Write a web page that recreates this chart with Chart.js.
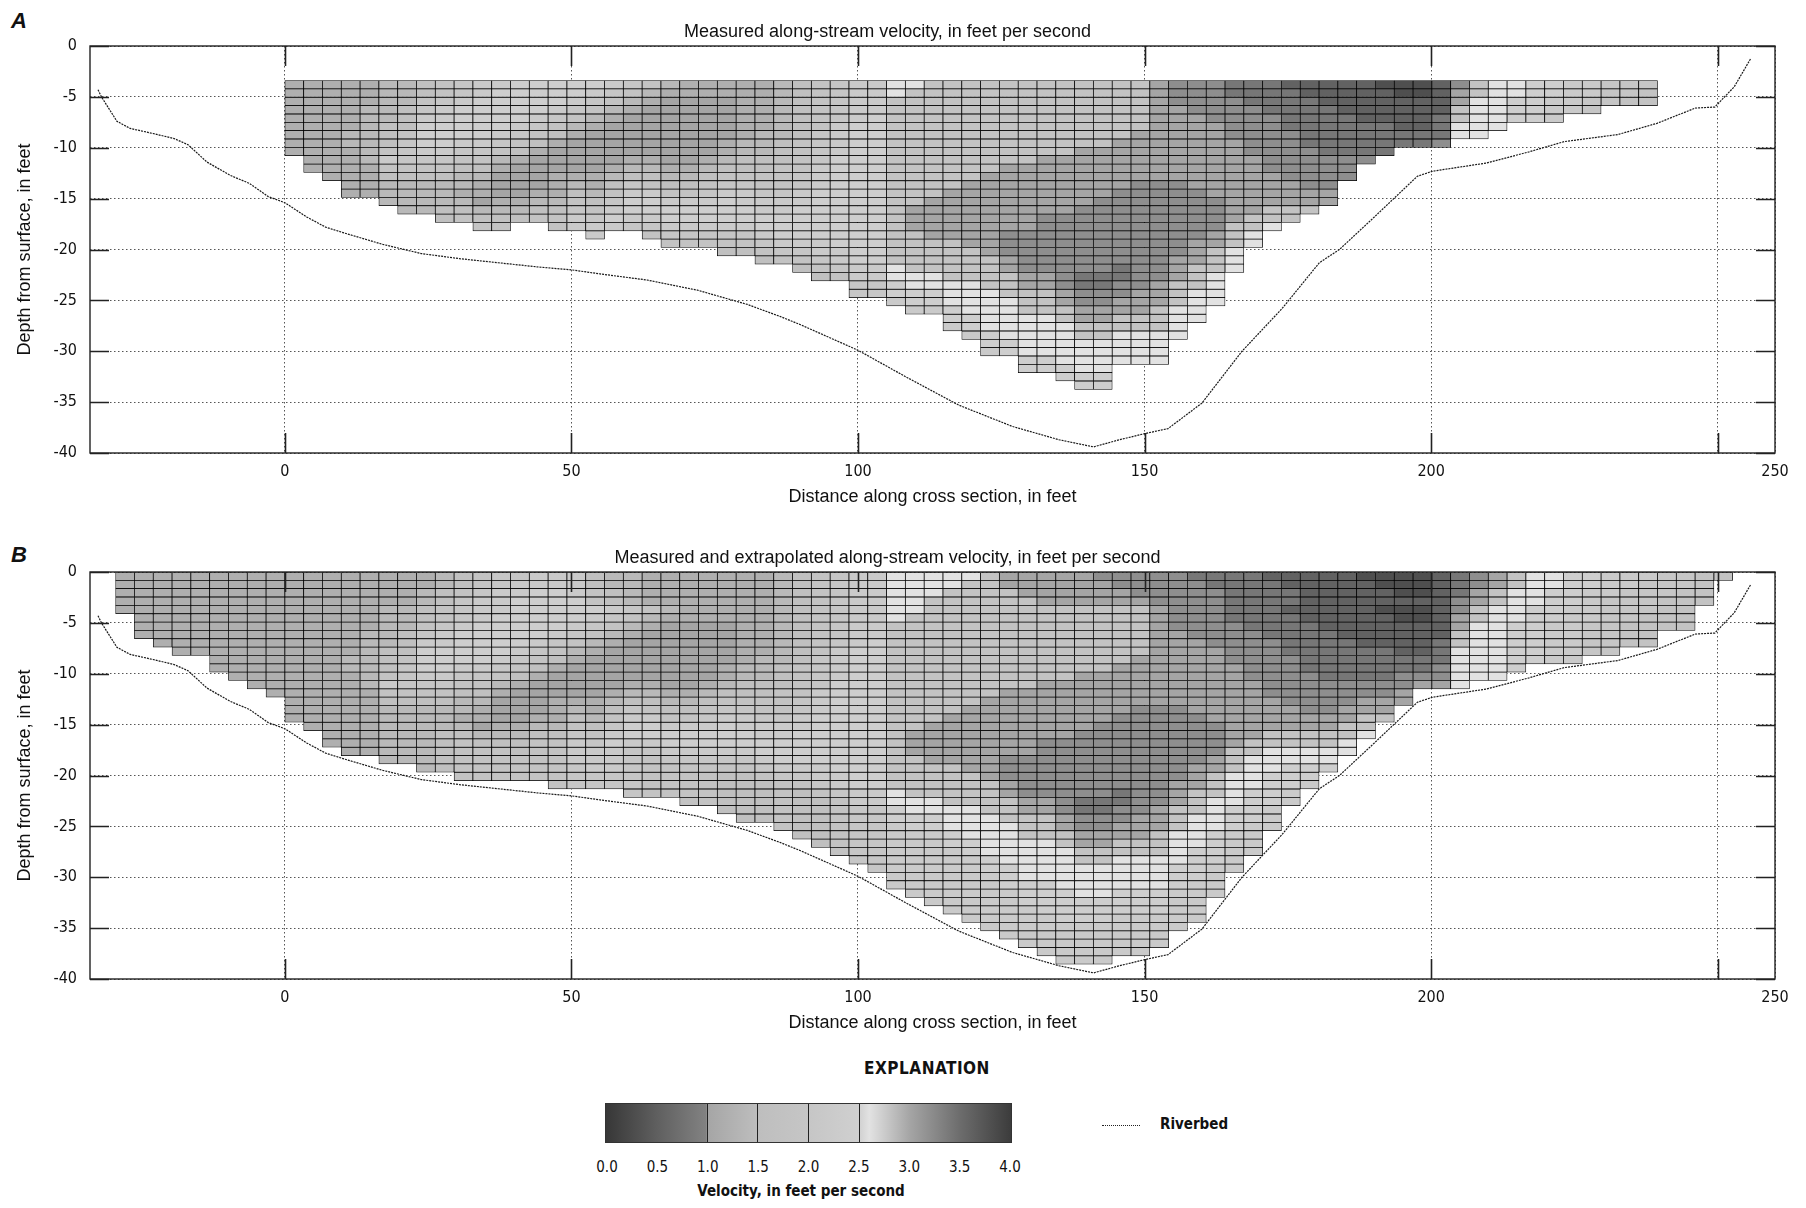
<!DOCTYPE html>
<html>
<head>
<meta charset="utf-8">
<title>Along-stream velocity cross section</title>
<script src="https://cdn.jsdelivr.net/npm/chart.js@4.4.1/dist/chart.umd.min.js"></script>
<style>
  html, body { margin: 0; padding: 0; background: #fff; }
  body { width: 1806px; height: 1208px; position: relative; overflow: hidden; color: #111;
         font-family: "Liberation Sans", Arial, sans-serif; }
  .panel { position: absolute; left: 0; }
  .tag { position: absolute; left: 11px; font: italic bold 22px "Liberation Sans", Arial, sans-serif; }
  .narrow { font-family: "Liberation Sans Narrow", "Arial Narrow", "DejaVu Sans Condensed", "Liberation Sans", sans-serif; }
  .abs { position: absolute; white-space: nowrap; }
  #colorbar { position: absolute; left: 605px; top: 1103px; width: 407px; height: 40px;
              box-sizing: border-box; border: 1px solid #333; }
  .divider { position: absolute; top: 0; width: 1px; height: 100%; background: #222; }
</style>
</head>
<body>
<div class="tag" style="top:8px">A</div>
<div class="tag" style="top:542px">B</div>
<canvas id="panelA" class="panel" width="1806" height="530" style="top:0"></canvas>
<canvas id="panelB" class="panel" width="1806" height="530" style="top:526px"></canvas>

<div class="abs narrow" style="left:927px; top:1058px; transform:translateX(-50%); font-weight:bold; font-size:17px; letter-spacing:0.5px">EXPLANATION</div>
<div id="colorbar"></div>
<div id="colorbarLabels"></div>
<div class="abs narrow" style="left:801px; top:1182px; transform:translateX(-50%); font-weight:bold; font-size:15px">Velocity, in feet per second</div>
<div class="abs" style="left:1102px; top:1125px; width:38px; border-top:1.5px dotted #222"></div>
<div class="abs narrow" style="left:1160px; top:1115px; font-weight:bold; font-size:15px">Riverbed</div>

<script>
// bin sizes of the velocity grid (1 m ensembles, 0.25 m depth cells), in feet
const CELL_W = 3.2808;
const CELL_H = 0.8202;

// each character is a velocity class: index * 0.2 ft/s
const VELOCITY_CODES = '0123456789ABCDEFGHIJK';

// A: measured cells, one string per ensemble column, top -> bottom
const measuredFirstX = 0;
const measuredTopDepth = -3.4;
const measuredColumns = [
  "666666666", "66666666666", "666666666666", "66666677666666", "66677777776666",
  "777778889B98777", "7778889AAA987777", "889ABCCCBA987777", "99ABBCCCBA9877788",
  "AABCCCCBA98776789", "BBCCCCCBA987665789", "BCCCCCBA9765556789", "CCCCCBA9865555678",
  "CCCCBA98655556789", "CCCBA9865556667899", "CCBA97655556789ABB", "CBA9765555566789ABB",
  "BA976555556789ABCB", "A97655555678ABCCBA", "9765555556789BCCBA9", "76555555556789BCCBA9",
  "66555555556789BCCBA9", "6655555556789ABCCBA9", "665555566789ABCCCBA98",
  "666666677889ABBCCBA98", "6666667778899ABBCCBA98", "7777777888999ABBCCCBA9",
  "88888889999AABBCCCCBA98", "999999AAAABBBCCCCCCBBA98", "AAAAABBBBCCCCCCCCCCCBBA9",
  "BBBBBCCCCCCCCCCCCCCCCCBBAA", "BBBBCCCCCCCCCCCCCCCCCCBBAA",
  "DDEEEEEEEEEEEEEEEEEEEEDDCCB", "DEEEEEEEEEEEEEEFFFEEEEEDDCCB",
  "EEEEEEEEEEEEEEFFFFFEEEEDDCCB", "EEEEEEEEEEEEEFFFFFFEEEEEDDDCCB",
  "EEEEEEEEEEEEFFFFFFFFEEEEDDDDCCB", "EEEEEEEEEEEFFFFFFFFFFEEEEDDDDDCCB",
  "EEEEEEEEEEFFFFFFFFGGGFFEEEDDDDDCC", "EEEEEEEEEEFFFFFFFFGGGGGFFEEEDDDDDCC",
  "EEEEEEEEEFFFFFFFGGGGGGGFFEEEDDDDDCC", "EEEEEEEEEFFFFFFFGGGGGGGGGFFEEDDDDDCC",
  "EEEEEEEEFFFFFFFGGGGGGGGHHGGFFEEDDDDCC", "EEEEEEEEFFFFFFGGGGGGGGGHHGGFFEEDDDDCC",
  "EEEEEEEFFFFFFGGGGGGGGGHHGGFFEEDDDD", "EEEEEEFFFFFFGGGGGGGGGGGGGFFFEEDDDD",
  "FFFFFFFFFFFFGGGGGGGGGGGGFFFEEEDDDD", "GGGFFFFFFFFFGGGGGGGGGFFFEEEDDDD",
  "GGGGFFFFFFFFFGGGGGGFFFEEEDDDD", "GGGGGFFFFFFFFFGGGGFFEEEDDDD",
  "HHGGGGGFFFFFFFFFFEEEDDD", "HHHGGGGGGFFFFFFFEEDD", "HHHHGGGGGGGFFFFEED",
  "IHHHHHGGGGGGFFFEE", "IIHHHHHHGGGGGFFE", "IIIHHHHHHGGGGFF", "IIIIHHHHHGGG",
  "IIIIIHHHHG", "JIIIIHHHH", "JJIIIIHH", "JJIIIIHH", "IIIIHHHG", "GFFEEDD",
  "EEDDDDD", "DDDDDD", "DDCCC", "CCCCC", "CCBBB", "BBBB", "BBAA", "AAA", "AA9", "A99"
];

// B: measured plus extrapolated cells, first column 9 bins left of zero
const extrapFirstX = -9 * CELL_W;
const extrapTopDepth = 0;
const extrapColumns = [
  "66666", "66666666", "666666666", "6666666666", "6666666666", "666666666666",
  "6666666666666", "66666666666666", "666666666666666",
  "666666666666666666", "6666666666666666666", "666666666666666666666",
  "6666666666776666666666", "6666666777777766666666", "6666777778889B987777777",
  "66667778889AAA987777777", "6677889ABCCCBA9877777777", "778899ABBCCCBA9877788888",
  "889AAABCCCCBA987767899999", "99ABBBCCCCCBA987665789999", "AABBBCCCCCBA9765556789999",
  "ABBCCCCCCBA98655556788999", "BBCCCCCCBA986555567899999", "BBCCCCCBA98655566678999999",
  "BBBCCCBA97655556789ABBBAAA", "8899CBA9765555566789ABBBAA", "7788BA976555556789ABCBBBAA",
  "7777A97655555678ABCCBAAAAAA", "66669765555556789BCCBA99999", "666676555555556789BCCBA9999",
  "666666555555556789BCCBA99999", "66666655555556789ABCCBA99999",
  "6666665555566789ABCCCBA988888", "6666666666677889ABBCCBA9888888",
  "66666666667778899ABBCCBA988888", "77777777777888999ABBCCCBA999999",
  "888888888889999AABBCCCCBA9888888", "9999999999AAAABBBCCCCCCBBA9888888",
  "AAAAAAAAABBBBCCCCCCCCCCCBBA9999999", "BBBBBBBBBCCCCCCCCCCCCCCCCCBBAAAAAAA",
  "BBBBBBBBCCCCCCCCCCCCCCCCCCBBAAAAAAAA", "DDDDDDEEEEEEEEEEEEEEEEEEEEDDCCBBBBBBBB",
  "DDDDDEEEEEEEEEEEEEEFFFEEEEEDDCCBBBBBBBB", "DDDEEEEEEEEEEEEEEEFFFFFEEEEDDCCBBBBBBBBB",
  "DDEEEEEEEEEEEEEEEFFFFFFEEEEEDDDCCBBBBBBBB", "DEEEEEEEEEEEEEEEFFFFFFFFEEEEDDDDCCBBBBBBBB",
  "EEEEEEEEEEEEEEEFFFFFFFFFFEEEEDDDDDCCBBBBBBB", "FFEEEEEEEEEEEEFFFFFFFFGGGFFEEEDDDDDCCCBBBBBB",
  "FFFEEEEEEEEEEEFFFFFFFFGGGGGFFEEEDDDDDCCCBBBBB", "FFFFEEEEEEEEEFFFFFFFGGGGGGGFFEEEDDDDDCCCCBBBBB",
  "FFFFEEEEEEEEEFFFFFFFGGGGGGGGGFFEEDDDDDCCCCBBBBB", "FFFFEEEEEEEEFFFFFFFGGGGGGGGHHGGFFEEDDDDCCCBBBBB",
  "GFFFEEEEEEEEFFFFFFGGGGGGGGGHHGGFFEEDDDDCCCBBBBB", "GGFFEEEEEEEFFFFFFGGGGGGGGGHHGGFFEEDDDDCCCBBBBB",
  "GGGFEEEEEEFFFFFFGGGGGGGGGGGGGFFFEEDDDDCCCBBBBB", "GGGGFFFFFFFFFFFFGGGGGGGGGGGGFFFEEEDDDDCCCBBBB",
  "GGGGGGGFFFFFFFFFGGGGGGGGGFFFEEEDDDDCCCBBBBB", "HGGGGGGGFFFFFFFFFGGGGGGFFFEEEDDDDCCCCBBBBB",
  "HHGGGGGGGFFFFFFFFFGGGGFFEEEDDDDCCCCBBBB", "HHHHHHGGGGGFFFFFFFFFFEEEDDDDCCCBBBBB",
  "HHHHHHHGGGGGGFFFFFFFEEDDDDCCCCBBBB", "IHHHHHHHGGGGGGGFFFFEEDDDCCCCBBB",
  "IIHHIHHHHHGGGGGGFFFEEDDCCCBB", "IIIIIIHHHHHHGGGGGFFEEDDCCB", "IIIIIIIHHHHHHGGGGFFEEDDC",
  "IIIIIIIIHHHHHGGGFFEEDD", "JIIIIIIIIHHHHGGFFEED", "JJIIJIIIIHHHHGGFFE", "JJJIJJIIIIHHGGFF",
  "JJJIJJIIIIHHGF", "IIIIIIIIHHHGGF", "HHHGGFFEEDDDDD", "GGFFEEDDDDDDD", "FFEEDDDDDDDDD",
  "EEDDDDCCCCCC", "DDDDCCCCCCC", "DDCCCCBBBBB", "CCCCBBBBBBB", "CCBBBBAAAA", "BBBAAAAAAA",
  "BBAAAA999", "BAAAA9999", "AAA9999", "AA99999", "9999", "9"
];

// riverbed profile, distance (ft) and depth (ft)
const riverbedX = [-32.6, -32.0, -29.3, -27.0, -23.0, -19.3, -16.9, -13.6, -9.6, -6.2, -2.9, 0, 3.8, 7.1,
  10.5, 17.1, 23.8, 30.5, 37.2, 43.9, 50, 55, 63.2, 72, 80.7, 86.5, 90, 100, 108.3, 117.6, 127, 135.1,
  141.1, 145.6, 150, 154.1, 160, 167, 174, 180.5, 184, 190.1, 197.6, 200.3, 209.7, 217.1, 223.2, 232.6,
  239.4, 246.1, 249.5, 252.9, 255.8];
const riverbedDepth = [-4.3, -5.0, -7.4, -8.1, -8.6, -9.1, -9.7, -11.4, -12.7, -13.5, -14.8, -15.4, -16.8,
  -17.8, -18.4, -19.5, -20.4, -20.9, -21.3, -21.7, -22.0, -22.4, -23.0, -24.0, -25.4, -26.6, -27.4, -29.9,
  -32.5, -35.3, -37.4, -38.7, -39.4, -38.7, -38.1, -37.6, -35.1, -30.0, -25.8, -21.3, -20.0, -16.8, -12.8,
  -12.3, -11.5, -10.4, -9.4, -8.7, -7.6, -6.1, -6.0, -4.0, -1.2];

const distanceTicks = [0, 50, 100, 150, 200, 250, 260];
const distanceTickLabels = ['0', '50', '100', '150', '200', '', '250'];
const depthTicks = [0, -5, -10, -15, -20, -25, -30, -35, -40];
const depthTickLabels = ['0', '-5', '-10', '-15', '-20', '-25', '-30', '-35', '-40'];
const velocityTicks = [0, 0.5, 1.0, 1.5, 2.0, 2.5, 3.0, 3.5, 4.0];
const colorbarDividers = [1.0, 1.5, 2.0, 2.5];

// grey colour scale (velocity -> grey level)
const colormapVelocity = [0, 0.5, 0.99, 1.0, 1.5, 2.0, 2.5, 2.6, 3.0, 3.5, 4.0];
const colormapGray = [55, 95, 130, 165, 190, 198, 208, 226, 165, 108, 60];

const NARROW = '"Liberation Sans Narrow", "Arial Narrow", "DejaVu Sans Condensed", "Liberation Sans", sans-serif';
const SANS = '"Liberation Sans", Arial, sans-serif';

function grayLevel(v) {
  for (let i = 0; i < colormapVelocity.length - 1; i++) {
    if (v <= colormapVelocity[i + 1]) {
      const t = (v - colormapVelocity[i]) / (colormapVelocity[i + 1] - colormapVelocity[i]);
      return Math.round(colormapGray[i] + Math.max(0, t) * (colormapGray[i + 1] - colormapGray[i]));
    }
  }
  return colormapGray[colormapGray.length - 1];
}
const grayCss = v => { const g = grayLevel(v); return `rgb(${g},${g},${g})`; };

function buildCells(columns, firstX, topDepth) {
  const cells = [];
  columns.forEach((profile, i) => {
    const x = firstX + (i + 0.5) * CELL_W;
    [...profile].forEach((code, j) => {
      const top = topDepth - j * CELL_H;
      cells.push({ x, y: [top - CELL_H, top], v: VELOCITY_CODES.indexOf(code) * 0.2 });
    });
  });
  return cells;
}

// frame and inward tick marks, as in the original plot
const frameTicks = {
  id: 'frameTicks',
  afterDraw(chart) {
    const { ctx, chartArea: a, scales: { x, y } } = chart;
    ctx.save();
    ctx.strokeStyle = '#222';
    ctx.lineWidth = 1.6;
    ctx.beginPath();
    distanceTicks.slice(0, -1).forEach(v => {
      const px = Math.round(x.getPixelForValue(v)) + 0.5;
      ctx.moveTo(px, a.bottom); ctx.lineTo(px, a.bottom - 20);
      ctx.moveTo(px, a.top); ctx.lineTo(px, a.top + 20);
    });
    depthTicks.forEach(v => {
      const py = Math.round(y.getPixelForValue(v)) + 0.5;
      ctx.moveTo(a.left, py); ctx.lineTo(a.left + 19, py);
      ctx.moveTo(a.right, py); ctx.lineTo(a.right - 19, py);
    });
    ctx.stroke();
    ctx.lineWidth = 1.4;
    ctx.strokeRect(a.left, a.top, a.right - a.left, a.bottom - a.top);
    ctx.restore();
  }
};

function makePanel(canvasId, title, cells) {
  return new Chart(document.getElementById(canvasId), {
    type: 'bar',
    data: {
      datasets: [
        {
          type: 'line',
          label: 'Riverbed',
          data: riverbedX.map((x, i) => ({ x, y: riverbedDepth[i] })),
          borderColor: '#1a1a1a',
          borderWidth: 1.2,
          borderDash: [2, 1],
          pointRadius: 0,
          tension: 0,
          order: 0
        },
        {
          type: 'bar',
          label: 'Velocity',
          data: cells,
          backgroundColor: c => (c.raw ? grayCss(c.raw.v) : '#bbb'),
          borderColor: '#000',
          borderWidth: 0.75,
          borderSkipped: false,
          barPercentage: 1,
          categoryPercentage: 1,
          order: 1
        }
      ]
    },
    options: {
      responsive: false,
      animation: false,
      devicePixelRatio: 1,
      layout: { padding: { left: 0, right: 31, top: 0, bottom: 0 } },
      plugins: {
        legend: { display: false },
        tooltip: { enabled: false },
        title: {
          display: true,
          text: title,
          color: '#111',
          font: { family: SANS, size: 18, weight: 'normal', lineHeight: 1.2 },
          padding: { top: 21, bottom: 3.4 }
        }
      },
      scales: {
        x: {
          type: 'linear',
          min: -34,
          max: 260,
          offset: false,
          afterFit: s => { s.height = 77; },
          afterBuildTicks: s => { s.ticks = distanceTicks.map(value => ({ value })); },
          ticks: {
            autoSkip: false,
            maxRotation: 0,
            padding: 9,
            color: '#111',
            font: { family: NARROW, size: 16 },
            callback: (value, index) => distanceTickLabels[index]
          },
          grid: { offset: false, drawTicks: false, color: '#555', lineWidth: 1 },
          border: { display: false, dash: [1.5, 2.5] },
          title: {
            display: true,
            text: 'Distance along cross section, in feet',
            color: '#111',
            font: { family: SANS, size: 18, lineHeight: 1.2 },
            padding: { top: 0, bottom: 22 }
          }
        },
        y: {
          type: 'linear',
          min: -40,
          max: 0,
          afterFit: s => { s.width = 90; },
          afterBuildTicks: s => { s.ticks = depthTicks.map(value => ({ value })); },
          ticks: {
            autoSkip: false,
            padding: 13,
            color: '#111',
            font: { family: NARROW, size: 16 },
            callback: (value, index) => depthTickLabels[index]
          },
          grid: { drawTicks: false, color: '#555', lineWidth: 1 },
          border: { display: false, dash: [1.5, 2.5] },
          title: {
            display: true,
            text: 'Depth from surface, in feet',
            color: '#111',
            font: { family: SANS, size: 18, lineHeight: 1.2 },
            padding: { top: 14, bottom: 0 }
          }
        }
      }
    },
    plugins: [frameTicks]
  });
}

makePanel('panelA', 'Measured along-stream velocity, in feet per second',
  buildCells(measuredColumns, measuredFirstX, measuredTopDepth));
makePanel('panelB', 'Measured and extrapolated along-stream velocity, in feet per second',
  buildCells(extrapColumns, extrapFirstX, extrapTopDepth));

// explanation colour bar
(function drawColorbar() {
  const bar = document.getElementById('colorbar');
  const vMax = velocityTicks[velocityTicks.length - 1];
  const stops = colormapVelocity.map((v, i) => {
    const g = colormapGray[i];
    return `rgb(${g},${g},${g}) ${(v / vMax * 100).toFixed(2)}%`;
  });
  bar.style.background = `linear-gradient(to right, ${stops.join(', ')})`;
  colorbarDividers.forEach(v => {
    const d = document.createElement('div');
    d.className = 'divider';
    d.style.left = (v / vMax * 405 - 0.5) + 'px';
    bar.appendChild(d);
  });
  const labels = document.getElementById('colorbarLabels');
  velocityTicks.forEach(v => {
    const el = document.createElement('div');
    el.className = 'abs narrow';
    el.style.cssText += `left:${607 + v / vMax * 403}px; top:1158px; transform:translateX(-50%); font-size:15px;`;
    el.textContent = v.toFixed(1);
    labels.appendChild(el);
  });
})();
</script>
</body>
</html>
